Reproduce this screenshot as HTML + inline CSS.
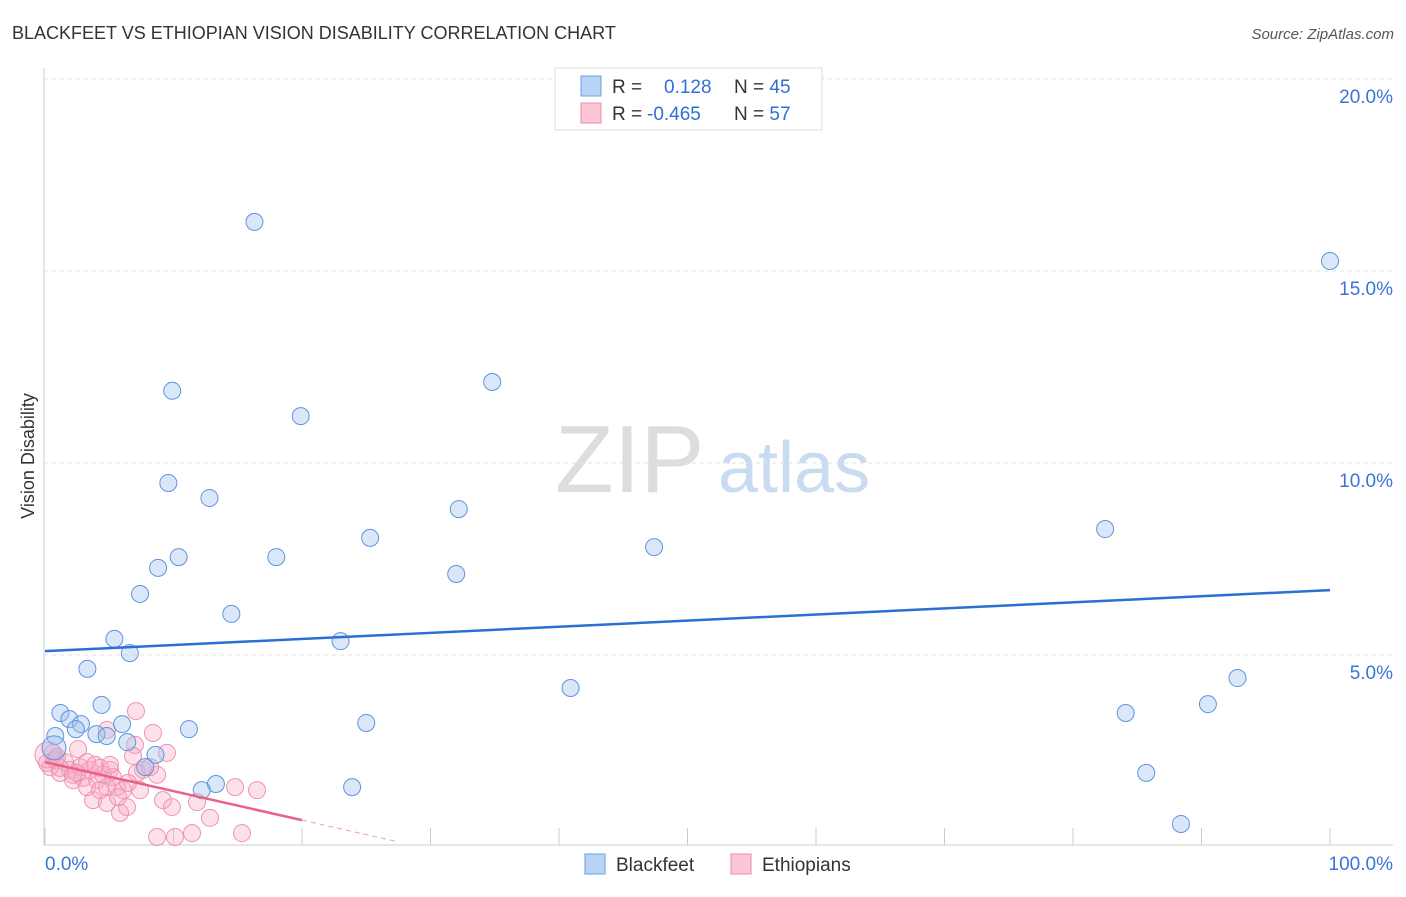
<!DOCTYPE html>
<html><head><meta charset="utf-8"><style>
body{margin:0;background:#fff;font-family:"Liberation Sans",sans-serif}
svg text{font-family:"Liberation Sans",sans-serif}
</style></head><body>
<svg id="c" width="1406" height="892">
<text x="12" y="39" font-size="18" fill="#333">BLACKFEET VS ETHIOPIAN VISION DISABILITY CORRELATION CHART</text>
<text x="1394" y="39" font-size="15" fill="#555" font-style="italic" text-anchor="end">Source: ZipAtlas.com</text>
<text x="34" y="456" font-size="18" fill="#333" transform="rotate(-90 34 456)" text-anchor="middle">Vision Disability</text>
<text x="555" y="492" font-size="96" fill="#ddd" font-family="Liberation Serif">ZIP</text>
<text x="718" y="492" font-size="72" fill="#c9dbf0">atlas</text>
<g id="grid"></g><g id="marks"></g>
<g>
<rect x="555" y="68" width="267" height="62" fill="#fff" stroke="#ddd"/>
<rect x="581" y="76" width="20" height="20" fill="#b8d3f5" stroke="#6b9fe0"/>
<rect x="581" y="103" width="20" height="20" fill="#fbc7d6" stroke="#ec8aa8"/>
<text x="612" y="93" font-size="19" fill="#333">R = <tspan fill="#2f6fd6" x="664">0.128</tspan><tspan x="734" fill="#333">N = </tspan><tspan fill="#2f6fd6">45</tspan></text>
<text x="612" y="120" font-size="19" fill="#333">R = <tspan fill="#2f6fd6" x="647">-0.465</tspan><tspan x="734" fill="#333">N = </tspan><tspan fill="#2f6fd6">57</tspan></text>
</g>
<g>
<rect x="585" y="854" width="20" height="20" fill="#b8d3f5" stroke="#6b9fe0"/>
<text x="616" y="871" font-size="19" fill="#333">Blackfeet</text>
<rect x="731" y="854" width="20" height="20" fill="#fbc7d6" stroke="#ec8aa8"/>
<text x="762" y="871" font-size="19" fill="#333">Ethiopians</text>
</g>
</svg>
<script>
const yTicks=[5,10,15,20];
const yTickLabels=["5.0%","10.0%","15.0%","20.0%"];
const xTickLabels=["0.0%","100.0%"];
const blackX=[16.3,100,9.9,34.8,19.9,9.6,12.8,32.2,82.5,25.3,47.4,10.4,18.0,8.8,32.0,7.4,14.5,5.4,23.0,6.6,3.3,40.9,92.8,4.4,1.2,90.5,84.1,1.9,2.8,6.0,25.0,2.4,11.2,0.8,4.0,4.8,6.4,0.7,8.6,7.8,85.7,23.9,13.3,12.2,88.4];
const blackY=[16.28,15.26,11.88,12.11,11.22,9.48,9.09,8.80,8.28,8.05,7.81,7.55,7.55,7.27,7.11,6.59,6.07,5.42,5.36,5.05,4.64,4.14,4.40,3.70,3.49,3.72,3.49,3.33,3.20,3.20,3.23,3.07,3.07,2.89,2.94,2.89,2.73,2.58,2.40,2.08,1.93,1.56,1.64,1.48,0.60];
const ethX=[7.08,4.82,8.40,2.57,7.00,9.49,6.85,8.72,7.63,0.62,0.39,1.17,1.95,2.72,3.50,4.28,5.06,5.29,2.18,2.96,4.05,5.60,6.07,4.82,7.39,3.74,4.82,5.84,6.38,9.18,9.88,11.83,12.84,14.79,16.50,8.72,10.12,11.44,15.33,0.78,1.56,3.27,1.17,0.16,2.49,4.51,3.27,5.68,7.16,8.17,0.23,6.46,2.18,4.28,0.93,5.06,3.89];
const ethY=[3.54,3.05,2.97,2.55,2.66,2.45,2.37,1.88,2.01,2.45,2.08,1.93,2.01,2.08,2.01,2.06,2.01,1.82,1.74,1.80,1.74,1.56,1.48,1.56,1.48,1.22,1.15,0.89,1.04,1.22,1.04,1.17,0.76,1.56,1.48,0.26,0.26,0.36,0.36,2.27,2.21,2.21,2.06,2.19,1.93,1.88,1.56,1.30,1.93,2.08,2.40,1.67,1.88,1.48,2.34,2.14,2.14];
const blackTrend=[5.1,6.69];
const ethTrend=[2.21,0.70];
const X=v=>45+v*12.85, Y=v=>847-v*38.4;
const NS="http://www.w3.org/2000/svg";
function mk(t,a,p){const e=document.createElementNS(NS,t);for(const k in a)e.setAttribute(k,a[k]);p.appendChild(e);return e;}
const g=document.getElementById('grid'), m=document.getElementById('marks');
let ax=mk('line',{x1:44,y1:68,x2:44,y2:845,stroke:'#ccc'},g);


let bx=mk('line',{x1:44,y1:845,x2:1393,y2:845,stroke:'#ccc'},g);


for(let k=0;k<=10;k++){const t=mk('line',{x1:X(k*10),x2:X(k*10),y1:828,y2:845,stroke:'#ccc'},g);

}
yTicks.forEach((v,i)=>{const l=mk('line',{x1:44,x2:1393,y1:Y(v),y2:Y(v),stroke:'#e2e2e2','stroke-dasharray':'4,4'},g);


const t=mk('text',{x:1393,y:Y(v)+24,'font-size':19,fill:'#3b74d6','text-anchor':'end'},g);t.textContent=yTickLabels[i];

});
[[0,'start',45],[1,'end',1393]].forEach(([i,a,x])=>{const t=mk('text',{x:x,y:870,'font-size':19,fill:'#3b74d6','text-anchor':a},g);t.textContent=xTickLabels[i];

});
ethX.forEach((v,i)=>{const c=mk('circle',{cx:X(v),cy:Y(ethY[i]),r:i==50?13:8.5,fill:'rgba(248,170,195,0.35)',stroke:'#ee93b0','stroke-width':1},m);

});
blackX.forEach((v,i)=>{const c=mk('circle',{cx:X(v),cy:Y(blackY[i]),r:i==37?12:8.5,fill:'rgba(160,195,240,0.4)',stroke:'#5f95dc','stroke-width':1},m);

});
let bl=mk('line',{x1:X(0),y1:Y(blackTrend[0]),x2:X(100),y2:Y(blackTrend[1]),stroke:'#2b6fd6','stroke-width':2.5},m);


let el=mk('line',{x1:X(0),y1:Y(ethTrend[0]),x2:X(20),y2:Y(ethTrend[1]),stroke:'#e9608a','stroke-width':2.5},m);


const s=(ethTrend[1]-ethTrend[0])/20;
let ed=mk('line',{x1:X(20),y1:Y(ethTrend[1]),x2:X(27.5),y2:Y(ethTrend[0]+s*27.5),stroke:'#e9a0b8','stroke-width':1,'stroke-dasharray':'5,4'},m);


</script>
</body></html>
